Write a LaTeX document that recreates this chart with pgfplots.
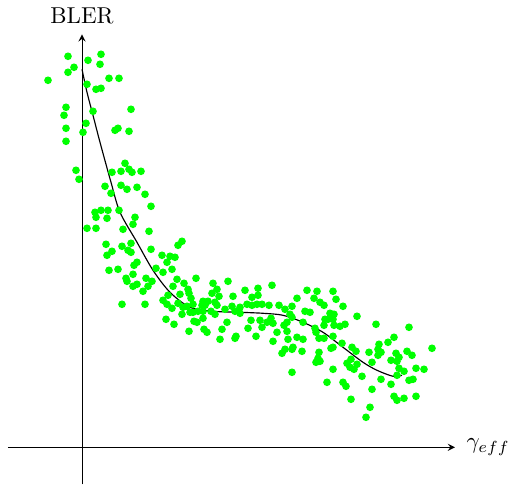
\documentclass[border=0pt]{standalone}
\usepackage{pgfplots}
\pgfplotsset{compat=1.18}
\begin{document}
\begin{tikzpicture}
\begin{axis}[
  x=0.435pt, y=0.435pt,
  axis lines=middle,
  axis line style={line width=0.4pt},
  xmin=-74, xmax=373, ymin=-37, ymax=413,
  xtick=\empty, ytick=\empty,
  clip=false,
  xlabel={$\gamma_{eff}$},
  ylabel={BLER},
  every axis x label/.style={at={(ticklabel* cs:1)}, anchor=west, xshift=1.5pt},
  every axis y label/.style={at={(ticklabel* cs:1)}, anchor=south, yshift=1pt},
]
\path (axis cs:-82,-44) rectangle (axis cs:436,445);
\addplot[only marks, mark=*, mark size=1.45pt, color=green, mark options={draw=green, fill=green}] coordinates {
(-14,391) (19,393) (6,387) (18,383) (-8,380) (-14,375) (-34,367) (27,369) (37,369)
(5,363) (14,358) (19,359) (-16,340) (-18,332) (11,336) (49,338) (4,324) (1,315)
(-16,319) (33,317) (36,319) (47,316) (-16,306) (43,284) (-6,277) (30,275) (39,276)
(47,278) (50,275) (59,276) (-3,268)
(23,261) (39,262) (45,258) (55,260) (29,254) (63,253) (69,241) (37,237) (13,235)
(19,237) (26,237) (14,230) (25,229) (53,230) (51,223) (5,219) (14,219) (41,218)
(67,216) (24,203) (40,201) (49,204) (46,197) (49,195) (30,196) (25,192) (69,198)
(80,192) (85,185) (55,185) (52,182) (74,179) (81,175) (27,177) (36,178) (51,173)
(44,169) (45,166) (64,169) (70,166) (55,163) (51,161) (66,161) (61,156) (40,143)
(63,143) (81,147) (85,143)
(100,206) (96,202) (88,191) (93,190) (90,178) (95,168) (114,169) (91,161) (102,164)
(146,166) (106,158) (98,153) (107,154) (131,164) (135,158) (130,154) (137,151) (86,152)
(109,149) (151,151) (163,157) (176,159) (190,162) (170,150) (176,152) (96,144) (121,146)
(126,146) (133,145) (135,142) (123,142) (120,142) (111,143) (105,141) (101,140) (90,139)
(111,135) (108,135) (116,136) (121,136) (129,136) (133,133) (143,138) (150,141) (158,140)
(158,134) (153,136) (165,143) (170,142) (175,143) (180,143) (187,142) (197,142) (203,138)
(210,141) (215,149) (208,133) (210,130) (205,125) (112,126) (115,125) (121,129) (122,118)
(125,115) (107,116) (92,123) (84,128) (100,133) (140,118) (145,125) (154,111) (153,109)
(138,108) (166,119) (169,127) (178,127) (180,120) (174,111) (185,125) (189,129) (191,124)
(195,115) (191,106) (205,116) (206,108) (215,110) (203,98) (211,100)
(200,94) (210,75) (210,98) (202,122)
(225,157) (235,156) (251,156) (232,149) (238,145) (242,142) (254,148) (261,141) (223,136)
(228,135) (248,134) (252,133) (246,128) (243,128) (275,131) (221,125) (233,119) (242,122)
(252,122) (258,121) (263,123) (251,128) (294,123) (327,120) (234,115) (221,108) (237,109)
(242,109) (251,111) (260,104) (220,96) (237,95) (234,85) (236,89) (249,99) (251,100)
(270,100) (274,96) (269,88) (265,84) (268,80) (272,78) (275,83) (287,95) (297,103)
(296,98) (299,95) (296,92) (290,85) (306,105) (312,110) (314,94) (317,90) (309,87)
(315,86) (317,79) (322,76) (315,72) (325,96) (330,92) (350,99) (334,79) (342,78)
(327,67) (331,68) (309,63) (312,51) (315,47) (322,49) (334,51) (299,68) (290,58)
(280,71) (269,48) (288,40) (284,30) (245,65) (261,65) (264,61) (251,78) (238,86)
};
\addplot[black, line width=0.5pt, smooth] coordinates {
(0,378) (5,355) (11,332) (18,305) (29,265) (38,235) (55,205) (71,177) (88,155)
(108,140) (131,136) (158,135) (181,134) (201,132) (221,125) (241,115) (261,100)
(281,85) (295,77) (311,71) (320,72)
};
\end{axis}
\end{tikzpicture}
\end{document}
